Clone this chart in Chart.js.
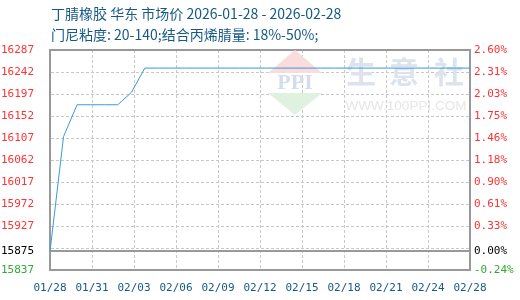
<!DOCTYPE html>
<html>
<head>
<meta charset="utf-8">
<script src="https://cdn.jsdelivr.net/npm/chart.js@4.4.1/dist/chart.umd.min.js"></script>
<style>
    html, body { margin: 0; padding: 0; background: #fff; }
    #wrap { width: 520px; height: 300px; }
</style>
</head>
<body>
<div id="wrap"><canvas id="myChart"></canvas></div>
<script>
"use strict";

const titleLines = [
    '丁腈橡胶 华东 市场价 2026-01-28 - 2026-02-28',
    '门尼粘度: 20-140;结合丙烯腈量: 18%-50%;'
];

// one point per day, 01/28 .. 02/28
const days = [
    '01/28', '01/29', '01/30', '01/31', '02/01', '02/02', '02/03', '02/04',
    '02/05', '02/06', '02/07', '02/08', '02/09', '02/10', '02/11', '02/12',
    '02/13', '02/14', '02/15', '02/16', '02/17', '02/18', '02/19', '02/20',
    '02/21', '02/22', '02/23', '02/24', '02/25', '02/26', '02/27', '02/28'
];
const prices = [
    15875, 16110, 16175, 16175, 16175, 16175, 16200, 16250,
    16250, 16250, 16250, 16250, 16250, 16250, 16250, 16250,
    16250, 16250, 16250, 16250, 16250, 16250, 16250, 16250,
    16250, 16250, 16250, 16250, 16250, 16250, 16250, 16250
];

const xTickLabels = ['01/28', '01/31', '02/03', '02/06', '02/09', '02/12', '02/15', '02/18', '02/21', '02/24', '02/28'];
const leftTicks = [15837, 15875, 15927, 15972, 16017, 16062, 16107, 16152, 16197, 16242, 16287];
const rightTicks = ['-0.24%', '0.00%', '0.33%', '0.61%', '0.90%', '1.18%', '1.46%', '1.75%', '2.03%', '2.31%', '2.60%'];
const dashedGrid = [15882, 15927, 15972, 16017, 16062, 16107, 16152, 16197, 16242];
const baseValue = 15875;

const RED = '#ff3333';
const GREEN = '#33a833';
const BLUE_TEXT = '#155a87';
const FRAME = '#999999';
const tickFont = { family: '"DejaVu Sans Mono", monospace', size: 11 };

function labelColor(value) {
    if (value === leftTicks[0]) return GREEN;
    if (value === baseValue) return '#000000';
    return RED;
}

const titlePlugin = {
    id: 'topTitle',
    afterDraw(chart) {
        const ctx = chart.ctx;
        ctx.save();
        ctx.fillStyle = BLUE_TEXT;
        ctx.font = '14px "Noto Sans CJK SC", sans-serif';
        ctx.textBaseline = 'middle';
        ctx.fillText(titleLines[0], chart.chartArea.left + 1, 14);
        ctx.fillText(titleLines[1], chart.chartArea.left + 1, 35);
        ctx.restore();
    }
};

const watermarkPlugin = {
    id: 'watermark',
    beforeDatasetsDraw(chart) {
        const ctx = chart.ctx;
        const a = chart.chartArea;
        const cx = a.left + 245;
        ctx.save();
        ctx.fillStyle = '#fbdcdc';
        ctx.beginPath();
        ctx.moveTo(cx, a.top);
        ctx.lineTo(cx + 27, a.top + 23);
        ctx.lineTo(cx - 27, a.top + 23);
        ctx.closePath();
        ctx.fill();
        ctx.fillStyle = '#dff1df';
        ctx.beginPath();
        ctx.moveTo(cx - 27, a.top + 43);
        ctx.lineTo(cx + 27, a.top + 43);
        ctx.lineTo(cx, a.top + 65);
        ctx.closePath();
        ctx.fill();
        ctx.fillStyle = '#d6ddea';
        ctx.textAlign = 'center';
        ctx.textBaseline = 'middle';
        ctx.font = 'bold 22px "Liberation Serif", serif';
        ctx.fillText('PPI', cx, a.top + 33);
        ctx.font = 'bold 30px "Noto Sans CJK SC", sans-serif';
        ctx.fillStyle = '#dde3ee';
        ctx.fillText('生', a.left + 311, a.top + 22);
        ctx.fillText('意', a.left + 354, a.top + 22);
        ctx.fillText('社', a.left + 399, a.top + 22);
        ctx.fillStyle = '#e6e6e6';
        ctx.font = '13.5px "Liberation Sans", sans-serif';
        ctx.fillText('WWW.100PPI.COM', a.left + 356, a.top + 56);
        ctx.restore();
    }
};

const ctx = document.getElementById('myChart').getContext('2d');
const myChart = new Chart(ctx, {
    type: 'line',
    data: {
        labels: days,
        datasets: [{
            label: '丁腈橡胶',
            data: prices,
            borderColor: '#3a9ad9',
            borderWidth: 1,
            pointRadius: 0,
            tension: 0,
            xAxisID: 'x',
            yAxisID: 'y'
        }]
    },
    options: {
        responsive: true,
        maintainAspectRatio: false,
        animation: false,
        layout: { padding: { top: 50, left: 0, right: 0, bottom: 0 } },
        plugins: {
            legend: { display: false },
            tooltip: { enabled: false }
        },
        scales: {
            x: {
                type: 'category',
                labels: days,
                offset: false,
                display: false
            },
            xTicks: {
                type: 'category',
                labels: xTickLabels,
                position: 'bottom',
                offset: false,
                afterFit(scale) { scale.height = 30; },
                grid: {
                    drawTicks: false,
                    color: c => (c.index === 0 || c.index === xTickLabels.length - 1) ? 'rgba(0,0,0,0)' : '#c8c8c8'
                },
                border: { display: true, color: FRAME, width: 2, dash: [3, 2] },
                ticks: {
                    autoSkip: false,
                    maxRotation: 0,
                    padding: 12,
                    color: BLUE_TEXT,
                    font: tickFont
                }
            },
            y: {
                type: 'linear',
                position: 'left',
                min: leftTicks[0],
                max: leftTicks[leftTicks.length - 1],
                afterFit(scale) { scale.width = 50; },
                afterBuildTicks(scale) {
                    scale.ticks = leftTicks.concat(dashedGrid)
                        .filter((v, i, arr) => arr.indexOf(v) === i)
                        .sort((p, q) => p - q)
                        .map(v => ({ value: v }));
                },
                grid: {
                    drawTicks: false,
                    color: c => dashedGrid.includes(c.tick.value) ? '#c8c8c8' : 'rgba(0,0,0,0)'
                },
                border: { display: true, color: FRAME, width: 2, dash: [3, 2] },
                ticks: {
                    padding: 16,
                    font: tickFont,
                    color: c => labelColor(c.tick.value),
                    callback: v => leftTicks.includes(v) ? String(v) : ''
                }
            },
            y2: {
                type: 'linear',
                position: 'right',
                min: leftTicks[0],
                max: leftTicks[leftTicks.length - 1],
                afterFit(scale) { scale.width = 50; },
                afterBuildTicks(scale) {
                    scale.ticks = leftTicks.map(v => ({ value: v }));
                },
                grid: {
                    drawTicks: false,
                    color: c => (c.tick.value === baseValue || c.tick.value === leftTicks[leftTicks.length - 1]) ? FRAME : 'rgba(0,0,0,0)',
                    lineWidth: 2
                },
                border: { display: true, color: FRAME, width: 2 },
                ticks: {
                    padding: 4,
                    font: tickFont,
                    color: c => labelColor(c.tick.value),
                    callback: (v, i) => rightTicks[leftTicks.indexOf(v)]
                }
            }
        }
    },
    plugins: [watermarkPlugin, titlePlugin]
});
</script>
</body>
</html>
